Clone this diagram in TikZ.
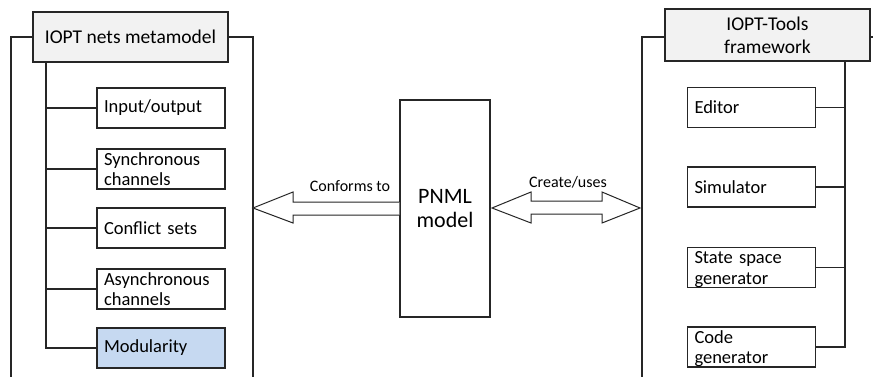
\documentclass[tikz,border=0pt]{standalone}
\usepackage{fontspec}
\setmainfont{Carlito}
\usetikzlibrary{calc}
\definecolor{hdrgray}{HTML}{F2F2F2}
\definecolor{modblue}{HTML}{C6D9F1}
\tikzset{
  ln/.style={line width=1.1pt, draw=black!85},
  hdr/.style={ln, fill=hdrgray, rectangle, inner sep=0pt, align=center,
     font=\fontsize{19.5}{23}\selectfont},
  item/.style={ln, fill=white, rectangle, minimum width=128pt, minimum height=40pt,
     text width=114pt, inner xsep=7pt, inner ysep=0pt, align=left,
     font=\fontsize{18.5}{20.5}\selectfont},
  two/.style={text height=16pt, text depth=24pt},
  lbl/.style={font=\fontsize{16}{19}\selectfont, inner sep=0pt},
}
\begin{document}
\begin{tikzpicture}[x=1pt,y=-1pt]
\useasboundingbox[fill=white] (0,0) rectangle (873,377);
% left group
\node[hdr, minimum width=195pt, minimum height=50pt] (lh) at (130.5,37) {IOPT nets metamodel};
\node[item] (io) at (161,108) {Input/output};
\node[item, two] (sc) at (161,169) {Synchronous\\channels};
\node[item] (cs) at (161,228) {Conflict sets};
\node[item, two] (ac) at (161,289) {Asynchronous\\channels};
\node[item, fill=modblue] (mo) at (161,348) {Modularity};
\coordinate (lt) at (46,62);
\draw[ln] (lt) |- (mo.west);
\foreach \n in {io,sc,cs,ac} \draw[ln] (\n.west) -- (\n.west -| lt);
\draw[ln] (lh.west) -- (11,37) -- (11,390);
\draw[ln] (lh.east) -- (253,37) -- (253,390);
% PNML
\node[ln, rectangle, minimum width=90pt, minimum height=217pt, inner sep=0pt,
   align=center, font=\fontsize{22}{24}\selectfont] (pn) at (445,208.5) {PNML\\model};
% right group
\node[hdr, minimum width=205pt, minimum height=52pt] (rh) at (767.5,35) {IOPT-Tools\\framework};
\node[item] (ed) at (751.5,107.5) {Editor};
\node[item] (si) at (751.5,187) {Simulator};
\node[item, two] (ss) at (751.5,267.5) {State space\\generator};
\node[item, two] (cg) at (751.5,347) {Code\\generator};
\coordinate (rt) at (845,61);
\draw[ln] (rt) |- (cg.east);
\foreach \n in {ed,si,ss} \draw[ln] (\n.east) -- (\n.east -| rt);
\draw[ln] (rh.west |- 0,37) -- (642,37) -- (642,390);
\draw[ln] (rh.east |- 0,37) -- (880,37);
% conforms-to arrow
\coordinate (ct) at (253,208);
\draw[ln, line width=1pt, fill=white] (pn.west |- 0,202) -- (293,202) -- (293,192) -- (ct)
   -- (293,223) -- (293,215) -- (pn.west |- 0,215);
\node[lbl] (cl) at (350,186) {Conforms to};
% create/uses arrow
\coordinate (ca) at (492,208);
\coordinate (cb) at (640,208);
\draw[ln, line width=1pt, fill=white] (ca) -- (531,192) -- (531,201) -- (602,201) -- (602,192)
   -- (cb) -- (602,223) -- (602,214) -- (531,214) -- (531,223) -- cycle;
\node[lbl] (cu) at (568,182) {Create/uses};
\end{tikzpicture}
\end{document}
